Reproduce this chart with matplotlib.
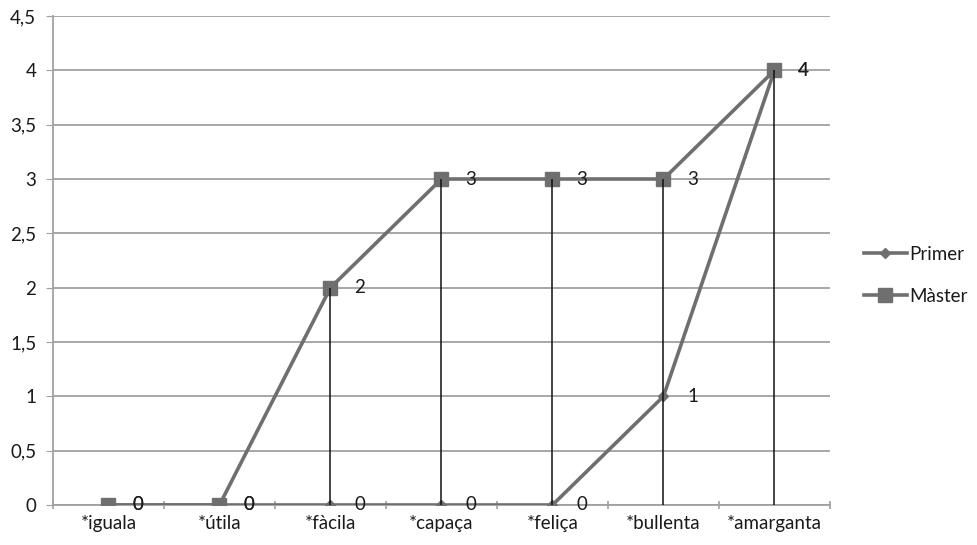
import matplotlib
matplotlib.use("Agg")
import matplotlib.pyplot as plt
import numpy as np

categories = ["*iguala", "*útila", "*fàcila", "*capaça", "*feliça", "*bullenta", "*amarganta"]
primer = [0, 0, 0, 0, 0, 1, 4]
master = [0, 0, 2, 3, 3, 3, 4]
series_names = ["Primer", "Màster"]
y_ticks = [0, 0.5, 1, 1.5, 2, 2.5, 3, 3.5, 4, 4.5]

plt.rcParams["font.family"] = ["Lato", "DejaVu Sans"]

fig = plt.figure(figsize=(9.77, 5.45), dpi=100)
ax = fig.add_axes([0.0542, 0.0734, 0.7953, 0.8972])

x = np.arange(len(categories))
line_col = "#6f6f6f"
grid_col = "#a0a0a0"
text_col = "#1a1a1a"
fs = 13.5

ax.plot(x, primer, color=line_col, lw=2.6, marker="D", ms=5.5,
        mfc=line_col, mec=line_col, label=series_names[0], zorder=3)
ax.plot(x, master, color=line_col, lw=2.6, marker="s", ms=10.5,
        mfc=line_col, mec=line_col, label=series_names[1], zorder=4)

# drop lines from the highest point of each category down to the axis
tops = np.maximum(primer, master)
ax.vlines(x, 0, tops, colors="#111111", lw=1.1, zorder=5)

# value labels to the right of each point
for series in (primer, master):
    for xi, v in zip(x, series):
        ax.annotate(f"{v:g}", (xi, v), xytext=(17, 0), textcoords="offset points",
                    ha="left", va="center", fontsize=fs, color=text_col, zorder=6)

ax.set_xlim(-0.5, len(categories) - 0.5)
ax.set_ylim(0, 4.5)
ax.set_yticks(y_ticks)
ax.set_yticklabels([f"{t:g}".replace(".", ",") for t in y_ticks])
ax.set_xticks(x)
ax.set_xticklabels(categories)
ax.set_xticks(np.arange(-0.5, len(categories)), minor=True)

ax.yaxis.grid(True, color=grid_col, lw=1.3)
ax.set_axisbelow(True)
for side in ("top", "right"):
    ax.spines[side].set_visible(False)
for side in ("left", "bottom"):
    ax.spines[side].set_color(grid_col)
    ax.spines[side].set_linewidth(1.3)

ax.tick_params(axis="y", length=5, color=grid_col, labelsize=fs, pad=7, labelcolor=text_col)
ax.tick_params(axis="x", which="major", length=0, labelsize=fs, pad=7, labelcolor=text_col)
ax.tick_params(axis="x", which="minor", length=6, width=1.2, color=grid_col, direction="inout")

leg = ax.legend(loc="center left", bbox_to_anchor=(1.022, 0.47), frameon=False,
                fontsize=fs, handlelength=2.3, handletextpad=0.1, labelspacing=1.35)
for t in leg.get_texts():
    t.set_color(text_col)

fig.savefig("out.png", dpi=100, facecolor="white")
